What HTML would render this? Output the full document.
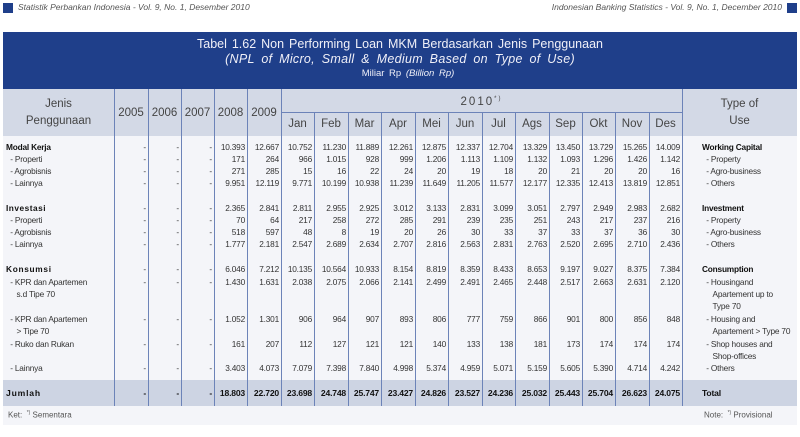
<!DOCTYPE html>
<html><head><meta charset="utf-8"><style>
*{margin:0;padding:0;box-sizing:border-box}
body{width:800px;height:437px;background:#fff;position:relative;overflow:hidden;font-family:"Liberation Sans",sans-serif;color:#333}
.a{position:absolute}
.row{position:absolute;left:3px;display:flex;font-size:8.3px;line-height:11px;height:11px;letter-spacing:-0.2px}
.row div{text-align:right;padding-right:2px;white-space:nowrap}
.row .l{text-align:left;padding-left:3px}
.row .r{text-align:left;padding-left:20px}
.vl{position:absolute;width:1px;background:#6c83b8}
.hd{position:absolute;font-size:11.5px;color:#444;text-align:center}
</style></head><body>
<div class="a" style="left:3px;top:3px;width:10px;height:10px;background:#1f3f8a"></div>
<div class="a" style="left:18px;top:2px;font-size:8.5px;font-style:italic;color:#555">Statistik Perbankan Indonesia - Vol. 9, No. 1, Desember 2010</div>
<div class="a" style="right:18px;top:2px;font-size:8.5px;font-style:italic;color:#555">Indonesian Banking Statistics - Vol. 9, No. 1, December 2010</div>
<div class="a" style="right:3px;top:3px;width:10px;height:10px;background:#1f3f8a"></div>

<div class="a" style="left:3px;top:32px;width:794px;height:57px;background:#1f3f8a;color:#f0f0f8;text-align:center">
<div style="font-size:12.5px;line-height:15px;margin-top:5px;word-spacing:1.5px;letter-spacing:0">Tabel 1.62 Non Performing Loan MKM Berdasarkan Jenis Penggunaan</div>
<div style="font-size:12.5px;line-height:15px;font-style:italic;word-spacing:3px;letter-spacing:0.3px">(NPL of Micro, Small &amp; Medium Based on Type of Use)</div>
<div style="font-size:9.5px;line-height:14px;word-spacing:2px;margin-left:16px">Miliar Rp <i>(Billion Rp)</i></div>
</div>
<div class="a" style="left:3px;top:89px;width:794px;height:47px;background:#d3d9e6"></div>
<div class="a" style="left:3px;top:136px;width:794px;height:244px;background:#f4f5f9"></div>
<div class="a" style="left:3px;top:380px;width:794px;height:26px;background:#cdd4e3"></div>
<div class="a" style="left:3px;top:406px;width:794px;height:19px;background:#f4f5f9"></div>

<div class="hd" style="left:3px;top:96px;width:111px;line-height:17px">Jenis<br>Penggunaan</div>
<div class="hd" style="left:114px;top:107px;width:34px">2005</div>
<div class="hd" style="left:148px;top:107px;width:33px">2006</div>
<div class="hd" style="left:181px;top:107px;width:33px">2007</div>
<div class="hd" style="left:214px;top:107px;width:33px">2008</div>
<div class="hd" style="left:247px;top:107px;width:34px">2009</div>
<div class="hd" style="left:281px;top:96px;width:401px;letter-spacing:2px">2010<sup style="font-size:6px">*)</sup></div>
<div class="hd" style="left:682px;top:96px;width:115px;line-height:17px">Type of<br>Use</div>
<div class="a" style="left:281px;top:112px;width:401px;height:1px;background:#6c83b8"></div>
<div class="hd" style="left:281px;top:118px;width:33px">Jan</div>
<div class="hd" style="left:314px;top:118px;width:34px">Feb</div>
<div class="hd" style="left:348px;top:118px;width:33px">Mar</div>
<div class="hd" style="left:381px;top:118px;width:34px">Apr</div>
<div class="hd" style="left:415px;top:118px;width:33px">Mei</div>
<div class="hd" style="left:448px;top:118px;width:34px">Jun</div>
<div class="hd" style="left:482px;top:118px;width:33px">Jul</div>
<div class="hd" style="left:515px;top:118px;width:34px">Ags</div>
<div class="hd" style="left:549px;top:118px;width:33px">Sep</div>
<div class="hd" style="left:582px;top:118px;width:33px">Okt</div>
<div class="hd" style="left:615px;top:118px;width:34px">Nov</div>
<div class="hd" style="left:649px;top:118px;width:33px">Des</div>

<div class="vl" style="left:114px;top:89px;height:317px"></div>
<div class="vl" style="left:148px;top:89px;height:317px"></div>
<div class="vl" style="left:181px;top:89px;height:317px"></div>
<div class="vl" style="left:214px;top:89px;height:317px"></div>
<div class="vl" style="left:247px;top:89px;height:317px"></div>
<div class="vl" style="left:281px;top:89px;height:317px"></div>
<div class="vl" style="left:314px;top:112px;height:294px"></div>
<div class="vl" style="left:348px;top:112px;height:294px"></div>
<div class="vl" style="left:381px;top:112px;height:294px"></div>
<div class="vl" style="left:415px;top:112px;height:294px"></div>
<div class="vl" style="left:448px;top:112px;height:294px"></div>
<div class="vl" style="left:482px;top:112px;height:294px"></div>
<div class="vl" style="left:515px;top:112px;height:294px"></div>
<div class="vl" style="left:549px;top:112px;height:294px"></div>
<div class="vl" style="left:582px;top:112px;height:294px"></div>
<div class="vl" style="left:615px;top:112px;height:294px"></div>
<div class="vl" style="left:649px;top:112px;height:294px"></div>
<div class="vl" style="left:682px;top:89px;height:317px"></div>

<style>
.row div:nth-child(1){width:111px}.row div:nth-child(2){width:34px}.row div:nth-child(3){width:33px}.row div:nth-child(4){width:33px}.row div:nth-child(5){width:33px}.row div:nth-child(6){width:34px}.row div:nth-child(7){width:33px}.row div:nth-child(8){width:34px}.row div:nth-child(9){width:33px}.row div:nth-child(10){width:34px}.row div:nth-child(11){width:33px}.row div:nth-child(12){width:34px}.row div:nth-child(13){width:33px}.row div:nth-child(14){width:34px}.row div:nth-child(15){width:33px}.row div:nth-child(16){width:33px}.row div:nth-child(17){width:34px}.row div:nth-child(18){width:33px}.row div:nth-child(19){width:115px}
.b{font-weight:bold;color:#111}
</style>
<div class="row" style="top:142px"><div class="l b">Modal Kerja</div><div>-</div><div>-</div><div>-</div><div>10.393</div><div>12.667</div><div>10.752</div><div>11.230</div><div>11.889</div><div>12.261</div><div>12.875</div><div>12.337</div><div>12.704</div><div>13.329</div><div>13.450</div><div>13.729</div><div>15.265</div><div>14.009</div><div class="r b">Working Capital</div></div>
<div class="row" style="top:154px"><div class="l">&nbsp;&nbsp;- Properti</div><div>-</div><div>-</div><div>-</div><div>171</div><div>264</div><div>966</div><div>1.015</div><div>928</div><div>999</div><div>1.206</div><div>1.113</div><div>1.109</div><div>1.132</div><div>1.093</div><div>1.296</div><div>1.426</div><div>1.142</div><div class="r">&nbsp;&nbsp;- Property</div></div>
<div class="row" style="top:166px"><div class="l">&nbsp;&nbsp;- Agrobisnis</div><div>-</div><div>-</div><div>-</div><div>271</div><div>285</div><div>15</div><div>16</div><div>22</div><div>24</div><div>20</div><div>19</div><div>18</div><div>20</div><div>21</div><div>20</div><div>20</div><div>16</div><div class="r">&nbsp;&nbsp;- Agro-business</div></div>
<div class="row" style="top:178px"><div class="l">&nbsp;&nbsp;- Lainnya</div><div>-</div><div>-</div><div>-</div><div>9.951</div><div>12.119</div><div>9.771</div><div>10.199</div><div>10.938</div><div>11.239</div><div>11.649</div><div>11.205</div><div>11.577</div><div>12.177</div><div>12.335</div><div>12.413</div><div>13.819</div><div>12.851</div><div class="r">&nbsp;&nbsp;- Others</div></div>

<div class="row" style="top:203px"><div class="l b" style="letter-spacing:0.5px">Investasi</div><div>-</div><div>-</div><div>-</div><div>2.365</div><div>2.841</div><div>2.811</div><div>2.955</div><div>2.925</div><div>3.012</div><div>3.133</div><div>2.831</div><div>3.099</div><div>3.051</div><div>2.797</div><div>2.949</div><div>2.983</div><div>2.682</div><div class="r b">Investment</div></div>
<div class="row" style="top:215px"><div class="l">&nbsp;&nbsp;- Properti</div><div>-</div><div>-</div><div>-</div><div>70</div><div>64</div><div>217</div><div>258</div><div>272</div><div>285</div><div>291</div><div>239</div><div>235</div><div>251</div><div>243</div><div>217</div><div>237</div><div>216</div><div class="r">&nbsp;&nbsp;- Property</div></div>
<div class="row" style="top:227px"><div class="l">&nbsp;&nbsp;- Agrobisnis</div><div>-</div><div>-</div><div>-</div><div>518</div><div>597</div><div>48</div><div>8</div><div>19</div><div>20</div><div>26</div><div>30</div><div>33</div><div>37</div><div>33</div><div>37</div><div>36</div><div>30</div><div class="r">&nbsp;&nbsp;- Agro-business</div></div>
<div class="row" style="top:239px"><div class="l">&nbsp;&nbsp;- Lainnya</div><div>-</div><div>-</div><div>-</div><div>1.777</div><div>2.181</div><div>2.547</div><div>2.689</div><div>2.634</div><div>2.707</div><div>2.816</div><div>2.563</div><div>2.831</div><div>2.763</div><div>2.520</div><div>2.695</div><div>2.710</div><div>2.436</div><div class="r">&nbsp;&nbsp;- Others</div></div>

<div class="row" style="top:264px"><div class="l b" style="letter-spacing:0.7px">Konsumsi</div><div>-</div><div>-</div><div>-</div><div>6.046</div><div>7.212</div><div>10.135</div><div>10.564</div><div>10.933</div><div>8.154</div><div>8.819</div><div>8.359</div><div>8.433</div><div>8.653</div><div>9.197</div><div>9.027</div><div>8.375</div><div>7.384</div><div class="r b">Consumption</div></div>
<div class="row" style="top:277px"><div class="l">&nbsp;&nbsp;- KPR dan Apartemen</div><div>-</div><div>-</div><div>-</div><div>1.430</div><div>1.631</div><div>2.038</div><div>2.075</div><div>2.066</div><div>2.141</div><div>2.499</div><div>2.491</div><div>2.465</div><div>2.448</div><div>2.517</div><div>2.663</div><div>2.631</div><div>2.120</div><div class="r">&nbsp;&nbsp;- Housingand</div></div>
<div class="row" style="top:289px"><div class="l">&nbsp;&nbsp;&nbsp;&nbsp;&nbsp;s.d Tipe 70</div><div></div><div></div><div></div><div></div><div></div><div></div><div></div><div></div><div></div><div></div><div></div><div></div><div></div><div></div><div></div><div></div><div></div><div class="r">&nbsp;&nbsp;&nbsp;&nbsp;&nbsp;Apartement up to</div></div>
<div class="row" style="top:301px"><div class="l"></div><div></div><div></div><div></div><div></div><div></div><div></div><div></div><div></div><div></div><div></div><div></div><div></div><div></div><div></div><div></div><div></div><div></div><div class="r">&nbsp;&nbsp;&nbsp;&nbsp;&nbsp;Type 70</div></div>
<div class="row" style="top:314px"><div class="l">&nbsp;&nbsp;- KPR dan Apartemen</div><div>-</div><div>-</div><div>-</div><div>1.052</div><div>1.301</div><div>906</div><div>964</div><div>907</div><div>893</div><div>806</div><div>777</div><div>759</div><div>866</div><div>901</div><div>800</div><div>856</div><div>848</div><div class="r">&nbsp;&nbsp;- Housing and</div></div>
<div class="row" style="top:326px"><div class="l">&nbsp;&nbsp;&nbsp;&nbsp;&nbsp;&gt; Tipe 70</div><div></div><div></div><div></div><div></div><div></div><div></div><div></div><div></div><div></div><div></div><div></div><div></div><div></div><div></div><div></div><div></div><div></div><div class="r">&nbsp;&nbsp;&nbsp;&nbsp;&nbsp;Apartement &gt; Type 70</div></div>
<div class="row" style="top:339px"><div class="l">&nbsp;&nbsp;- Ruko dan Rukan</div><div>-</div><div>-</div><div>-</div><div>161</div><div>207</div><div>112</div><div>127</div><div>121</div><div>121</div><div>140</div><div>133</div><div>138</div><div>181</div><div>173</div><div>174</div><div>174</div><div>174</div><div class="r">&nbsp;&nbsp;- Shop houses and</div></div>
<div class="row" style="top:351px"><div class="l"></div><div></div><div></div><div></div><div></div><div></div><div></div><div></div><div></div><div></div><div></div><div></div><div></div><div></div><div></div><div></div><div></div><div></div><div class="r">&nbsp;&nbsp;&nbsp;&nbsp;&nbsp;Shop-offices</div></div>
<div class="row" style="top:363px"><div class="l">&nbsp;&nbsp;- Lainnya</div><div>-</div><div>-</div><div>-</div><div>3.403</div><div>4.073</div><div>7.079</div><div>7.398</div><div>7.840</div><div>4.998</div><div>5.374</div><div>4.959</div><div>5.071</div><div>5.159</div><div>5.605</div><div>5.390</div><div>4.714</div><div>4.242</div><div class="r">&nbsp;&nbsp;- Others</div></div>

<div class="row b" style="top:388px;font-size:8.6px"><div class="l" style="letter-spacing:0.8px">Jumlah</div><div>-</div><div>-</div><div>-</div><div>18.803</div><div>22.720</div><div>23.698</div><div>24.748</div><div>25.747</div><div>23.427</div><div>24.826</div><div>23.527</div><div>24.236</div><div>25.032</div><div>25.443</div><div>25.704</div><div>26.623</div><div>24.075</div><div class="r">Total</div></div>
<div class="a" style="left:8px;top:410px;font-size:8px;color:#555">Ket: &nbsp;<sup style="font-size:5px">*)</sup> Sementara</div>
<div class="a" style="left:704px;top:410px;font-size:8px;color:#555">Note: &nbsp;<sup style="font-size:5px">*)</sup> Provisional</div>
</body></html>
